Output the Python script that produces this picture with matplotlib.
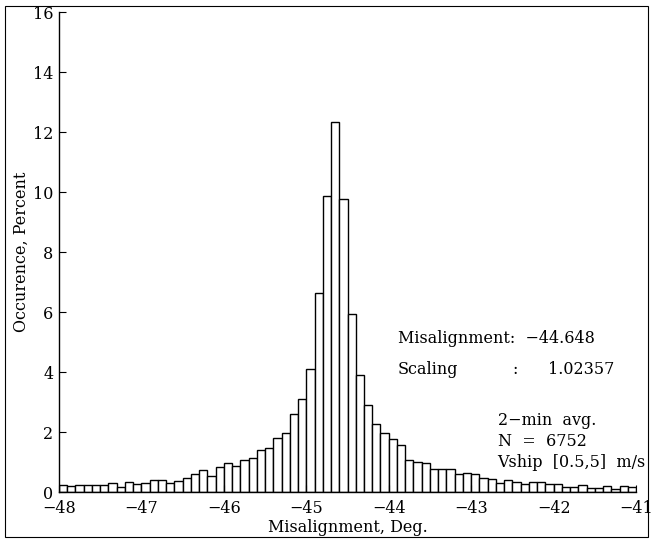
import matplotlib
matplotlib.use("Agg")
import matplotlib.pyplot as plt
from matplotlib.patches import Rectangle
import numpy as np

# histogram of misalignment angle, 0.1 deg bins from -48 to -41
bin_start = -48.0
bin_width = 0.1
occurrence = [
    0.24, 0.20, 0.24, 0.24, 0.23, 0.23, 0.30, 0.18, 0.32, 0.27,
    0.31, 0.39, 0.39, 0.31, 0.37, 0.47, 0.59, 0.73, 0.53, 0.83,
    0.98, 0.86, 1.08, 1.12, 1.40, 1.46, 1.81, 1.98, 2.61, 3.11,
    4.09, 6.64, 9.87, 12.34, 9.78, 5.95, 3.90, 2.89, 2.27, 1.98,
    1.78, 1.56, 1.08, 1.01, 0.96, 0.76, 0.77, 0.78, 0.61, 0.62,
    0.59, 0.48, 0.44, 0.30, 0.39, 0.34, 0.28, 0.34, 0.33, 0.28,
    0.26, 0.17, 0.17, 0.22, 0.14, 0.12, 0.20, 0.11, 0.19, 0.16,
]
misalignment = -44.648
scaling = 1.02357
n_samples = 6752

xticks = [-48, -47, -46, -45, -44, -43, -42, -41]
yticks = [0, 2, 4, 6, 8, 10, 12, 14, 16]

plt.rcParams["font.family"] = ["DejaVu Serif"]
plt.rcParams["font.size"] = 11.5

fig = plt.figure(figsize=(6.54, 5.43), dpi=100)
ax = fig.add_axes([0.0902, 0.0939, 0.8823, 0.884])

edges = bin_start + bin_width * np.arange(len(occurrence))
ax.bar(edges, occurrence, width=bin_width, align="edge",
       facecolor="white", edgecolor="black", linewidth=1.0)

ax.set_xlim(-48, -41)
ax.set_ylim(0, 16)
ax.set_xticks(xticks)
ax.set_yticks(yticks)
ax.tick_params(direction="in", length=5, width=0.8)
ax.tick_params(axis="x", pad=6)
ax.tick_params(axis="y", pad=4)
ax.spines["top"].set_visible(False)
ax.spines["right"].set_visible(False)
for s in ("left", "bottom"):
    ax.spines[s].set_linewidth(1.0)

ax.set_xlabel("Misalignment, Deg.", labelpad=1)
ax.set_ylabel("Occurence, Percent", labelpad=2)

ax.text(-43.89, 5.13, f"Misalignment:  {misalignment:.3f}".replace("-", "\u2212"),
        ha="left", va="center")
ax.text(-43.89, 4.1, "Scaling", ha="left", va="center")
ax.text(-42.50, 4.1, ":", ha="left", va="center")
ax.text(-42.07, 4.1, f"{scaling:.5f}", ha="left", va="center")

ax.text(-42.68, 2.37, "2\u2212min  avg.", ha="left", va="center")
ax.text(-42.68, 1.7, f"N  =  {n_samples}", ha="left", va="center")
ax.text(-42.68, 1.0, "Vship  [0.5,5]  m/s", ha="left", va="center")

# thin frame around the whole figure
fig.patches.append(Rectangle((5 / 654, 6 / 543), 643 / 654, 531 / 543,
                             transform=fig.transFigure, fill=False,
                             edgecolor="black", linewidth=0.8))

fig.savefig("out.png", dpi=100)
plt.close(fig)
